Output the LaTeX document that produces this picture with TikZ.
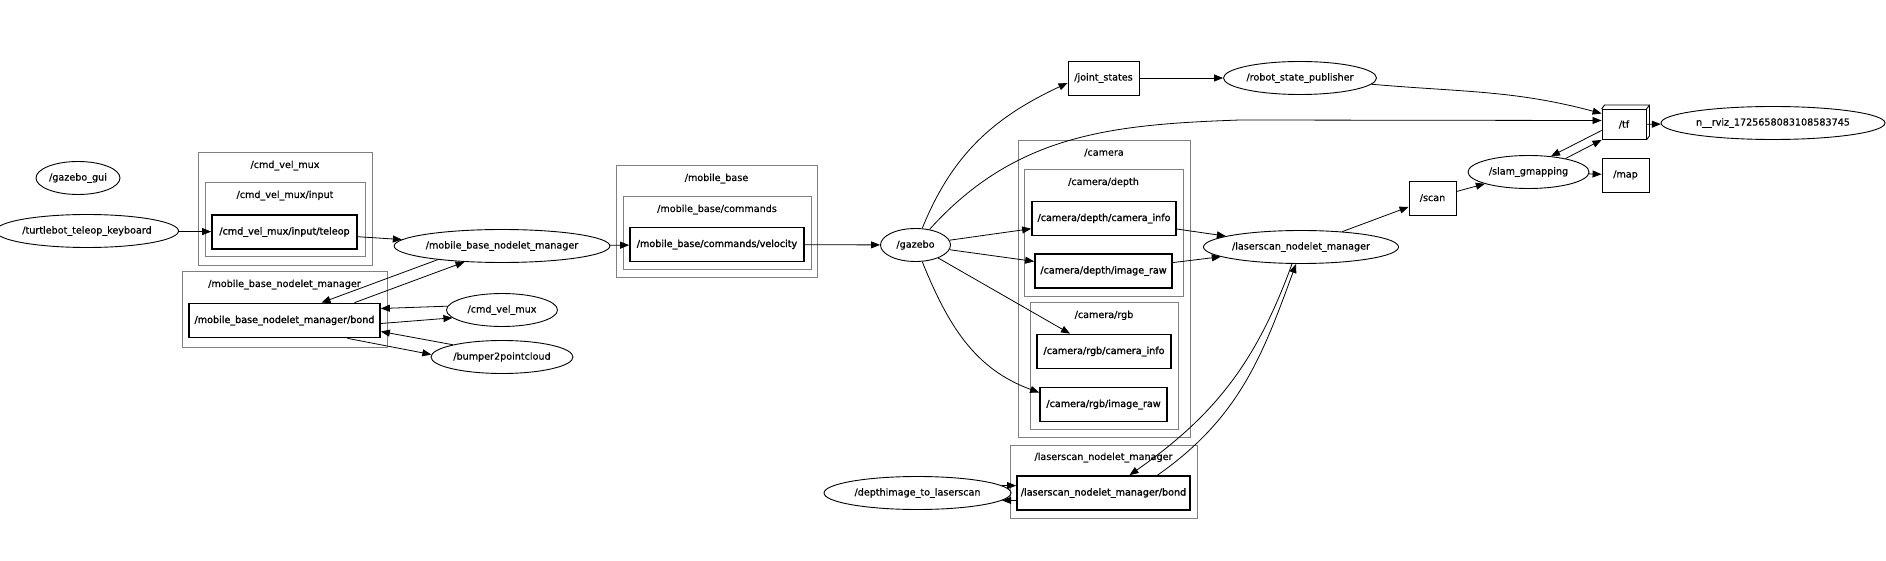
\documentclass[tikz,border=0pt]{standalone}
\usepackage{fontspec}
\setmainfont[FakeBold=0.4]{DejaVu Sans}
\newfontfamily\boxfont[FakeBold=1.4]{DejaVu Sans}
\usetikzlibrary{arrows.meta,shapes.geometric,positioning}

\tikzset{
  rosnode/.style={ellipse, draw, line width=0.9pt, inner sep=0pt, minimum height=33pt},
  nstopic/.style={rectangle, draw, line width=1.7pt, inner sep=0pt, minimum height=34pt, font=\boxfont\fontsize{9.6}{11}\selectfont},
  topic/.style={rectangle, draw, line width=0.9pt, inner sep=0pt, minimum height=34pt},
  cluster/.style={rectangle, draw=black!50, line width=1pt, inner sep=0pt},
  clabel/.style={inner sep=0pt},
  edge/.style={line width=0.8pt, -{Triangle[length=9pt,width=7pt]}},
}

\begin{document}
\begin{tikzpicture}[x=1pt,y=1pt,font=\fontsize{9.6}{11}\selectfont]
  \useasboundingbox (0,0) rectangle (1886,560);

  % namespaces (clusters)
  \node[cluster, minimum width=174pt, minimum height=113pt] (cvmC) at (285,350.5) {};
  \node[cluster, minimum width=160pt, minimum height=74pt] (inputC) at (285,340) {};
  \node[cluster, minimum width=205pt, minimum height=75pt] (mbnmC) at (284.5,250.5) {};
  \node[cluster, minimum width=201pt, minimum height=112pt] (mobileBaseC) at (716.5,338) {};
  \node[cluster, minimum width=188pt, minimum height=73pt] (commandsC) at (717,326.5) {};
  \node[cluster, minimum width=172pt, minimum height=296pt] (cameraC) at (1104,271) {};
  \node[cluster, minimum width=159pt, minimum height=127pt] (depthC) at (1103.5,326.5) {};
  \node[cluster, minimum width=148pt, minimum height=126pt] (rgbC) at (1104,194) {};
  \node[cluster, minimum width=187pt, minimum height=73pt] (lsmC) at (1103.5,78.5) {};

  % cluster titles
  \foreach \Box/\Text in {cvmC/{/cmd\_vel\_mux}, inputC/{/cmd\_vel\_mux/input},
      mbnmC/{/mobile\_base\_nodelet\_manager}, mobileBaseC/{/mobile\_base},
      commandsC/{/mobile\_base/commands}, cameraC/{/camera}, depthC/{/camera/depth},
      rgbC/{/camera/rgb}, lsmC/{/laserscan\_nodelet\_manager}}{
    \node[clabel, below=8pt of \Box.north] (\Box-lbl) {\Text};
  }

  % ros nodes and topics
  \node[rosnode, minimum width=84pt] (gazeboGui) at (78,382) {/gazebo\_gui};
  \node[rosnode, minimum width=174pt] (teleopKb) at (87,329) {/turtlebot\_teleop\_keyboard};
  \node[nstopic, minimum width=145pt] (teleop) at (284.5,328) {/cmd\_vel\_mux/input/teleop};
  \node[rosnode, minimum width=214pt] (mbnm) at (502,314) {/mobile\_base\_nodelet\_manager};
  \node[nstopic, minimum width=191pt] (mbnmBond) at (284.5,239.5) {/mobile\_base\_nodelet\_manager/bond};
  \node[rosnode, minimum width=111pt] (cmdVelMux) at (502,250) {/cmd\_vel\_mux};
  \node[rosnode, minimum width=142pt] (bumper) at (502,203) {/bumper2pointcloud};
  \node[nstopic, minimum width=174pt] (velocity) at (717,315.5) {/mobile\_base/commands/velocity};
  \node[rosnode, minimum width=70pt] (gazebo) at (915.5,315) {/gazebo};
  \node[topic, minimum width=71pt] (jointStates) at (1103.5,482) {/joint\_states};
  \node[rosnode, minimum width=153pt] (rsp) at (1300,482) {/robot\_state\_publisher};
  \node[topic, minimum width=44pt, minimum height=30pt] (tf) at (1624,435.5) {/tf};
  \node[rosnode, minimum width=224pt] (rviz) at (1773,437) {n\_\_rviz\_1725658083108583745};
  \node[rosnode, minimum width=121pt] (slam) at (1528.5,388) {/slam\_gmapping};
  \node[topic, minimum width=47pt] (map) at (1625.5,385) {/map};
  \node[topic, minimum width=47pt] (scan) at (1432.5,362) {/scan};
  \node[rosnode, minimum width=192pt] (lsm) at (1301,313) {/laserscan\_nodelet\_manager};
  \node[nstopic, minimum width=144pt] (depthInfo) at (1104,341.5) {/camera/depth/camera\_info};
  \node[nstopic, minimum width=137pt] (depthRaw) at (1103.5,289) {/camera/depth/image\_raw};
  \node[nstopic, minimum width=134pt] (rgbInfo) at (1104,208.5) {/camera/rgb/camera\_info};
  \node[nstopic, minimum width=127pt] (rgbRaw) at (1103.5,155.5) {/camera/rgb/image\_raw};
  \node[nstopic, minimum width=173pt] (lsmBond) at (1103.5,67) {/laserscan\_nodelet\_manager/bond};
  \node[rosnode, minimum width=187pt] (depthToScan) at (917.5,67) {/depthimage\_to\_laserscan};

  % box3d look of /tf
  \draw[line width=0.9pt] (tf.north west) -- ++(3,4) -- ([shift={(3,4)}]tf.north east)
    -- ([shift={(3,4)}]tf.south east) -- (tf.south east);
  \draw[line width=0.9pt] (tf.north east) -- ++(3,4);

  % teleop -> base
  \draw[edge] (teleopKb) -- (teleop);
  \draw[edge] (teleop) -- (mbnm);
  \draw[edge] (mbnm) -- (velocity);
  \draw[edge] (velocity) -- (gazebo);

  % bond of the mobile base manager
  \draw[edge] (mbnm.192) -- ([xshift=37pt]mbnmBond.north);
  \draw[edge] ([xshift=70pt]mbnmBond.north) -- (mbnm.203);
  \draw[edge] (cmdVelMux.176) -- ([yshift=12pt]mbnmBond.east);
  \draw[edge] ([yshift=-3pt]mbnmBond.east) -- (cmdVelMux.189);
  \draw[edge] (bumper.166) -- ([yshift=-11pt]mbnmBond.east);
  \draw[edge] ([xshift=63pt]mbnmBond.south) -- (bumper.178);

  % gazebo outputs
  \draw[edge] (gazebo) to[out=68,in=205] ([yshift=-5pt]jointStates.west);
  \draw[edge] (gazebo) to[out=48,in=182] (1240,440) -- ([yshift=4pt]tf.west);
  \draw[edge] (gazebo) -- (depthInfo);
  \draw[edge] (gazebo) -- (depthRaw);
  \draw[edge] (gazebo) -- ([xshift=-34pt]rgbInfo.north);
  \draw[edge] (gazebo) to[out=-68,in=160] ([yshift=12pt]rgbRaw.west);

  % laser scan and slam
  \draw[edge] (depthInfo) -- (lsm);
  \draw[edge] (depthRaw) -- (lsm);
  \draw[edge] (lsm) -- (scan);
  \draw[edge] (scan) -- (slam);
  \draw[edge] (slam) -- (map);
  \draw[edge] (slam.20) -- (tf.south west);
  \draw[edge] ([yshift=-6pt]tf.west) -- (slam.35);

  % tf chain
  \draw[edge] (jointStates) -- (rsp);
  \draw[edge] (rsp) to[out=-5,in=165] ([yshift=11pt]tf.west);
  \draw[edge] (tf) -- (rviz);

  % bond of the laserscan manager
  \draw[edge] ([xshift=54pt]lsmBond.north) to[out=35,in=-110] ([xshift=-5pt]lsm.south);
  \draw[edge] ([xshift=-9pt]lsm.south) to[out=-110,in=35] ([xshift=26pt]lsmBond.north);
  \draw[edge] (depthToScan.5) -- (depthToScan.5 -| lsmBond.west);
  \draw[edge] (depthToScan.-5 -| lsmBond.west) -- (depthToScan.-5);
\end{tikzpicture}
\end{document}
